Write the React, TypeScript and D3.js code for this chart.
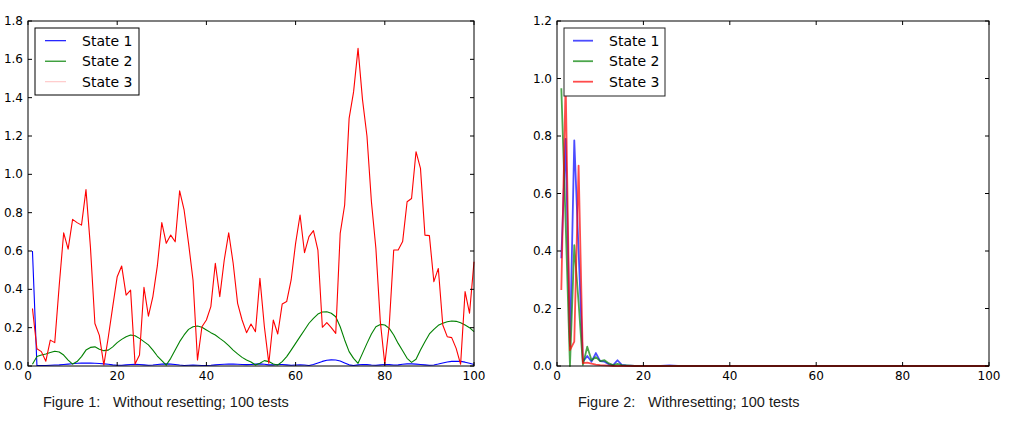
import React from "react";
import * as d3 from "d3";

const seriesNames = ["State 1", "State 2", "State 3"];
const xTicks = [0, 20, 40, 60, 80, 100];
const leftYTicks = [0, 0.2, 0.4, 0.6, 0.8, 1.0, 1.2, 1.4, 1.6, 1.8];
const rightYTicks = [0, 0.2, 0.4, 0.6, 0.8, 1.0, 1.2];

const leftState1 = [
  0.60, 0.003, 0.003, 0.003, 0.004, 0.005, 0.006, 0.008, 0.010, 0.012,
  0.014, 0.015, 0.015, 0.015, 0.014, 0.013, 0.011, 0.009, 0.006, 0.004,
  0.004, 0.006, 0.008, 0.009, 0.008, 0.006, 0.004, 0.005, 0.008, 0.010,
  0.011, 0.010, 0.008, 0.005, 0.003, 0.004, 0.005, 0.004, 0.003, 0.003,
  0.004, 0.006, 0.008, 0.009, 0.010, 0.010, 0.009, 0.008, 0.007, 0.008,
  0.010, 0.011, 0.009, 0.006, 0.006, 0.008, 0.008, 0.006, 0.004, 0.005,
  0.006, 0.005, 0.003, 0.008, 0.016, 0.024, 0.030, 0.032, 0.031, 0.026,
  0.016, 0.006, 0.003, 0.006, 0.008, 0.007, 0.005, 0.004, 0.006, 0.008,
  0.007, 0.005, 0.006, 0.009, 0.011, 0.011, 0.010, 0.008, 0.006, 0.004,
  0.005, 0.010, 0.016, 0.021, 0.024, 0.025, 0.024, 0.020, 0.014, 0.008,
];

const leftState2 = [
  0.009, 0.05, 0.057, 0.063, 0.07, 0.077, 0.073, 0.057, 0.031, 0.01,
  0.023, 0.049, 0.083, 0.097, 0.1, 0.087, 0.08, 0.083, 0.1, 0.122,
  0.139, 0.153, 0.162, 0.158, 0.144, 0.127, 0.11, 0.083, 0.052, 0.028,
  0.005, 0.04, 0.083, 0.127, 0.162, 0.191, 0.205, 0.209, 0.202, 0.188,
  0.174, 0.162, 0.144, 0.127, 0.106, 0.083, 0.063, 0.045, 0.031, 0.021,
  0.005, 0.014, 0.028, 0.023, 0.01, 0.005, 0.023, 0.049, 0.083, 0.118,
  0.153, 0.188, 0.223, 0.249, 0.271, 0.282, 0.283, 0.275, 0.257, 0.205,
  0.136, 0.075, 0.04, 0.014, 0.066, 0.118, 0.167, 0.205, 0.217, 0.214,
  0.196, 0.162, 0.118, 0.08, 0.04, 0.019, 0.035, 0.083, 0.127, 0.167,
  0.191, 0.212, 0.223, 0.231, 0.235, 0.233, 0.226, 0.214, 0.2, 0.179,
];

const leftState3 = [
  0.30, 0.09, 0.075, 0.025, 0.135, 0.122, 0.42, 0.695, 0.61, 0.765,
  0.748, 0.735, 0.92, 0.62, 0.222, 0.16, 0.005, 0.15, 0.31, 0.466,
  0.522, 0.37, 0.396, 0.01, 0.057, 0.41, 0.26, 0.362, 0.522, 0.748,
  0.64, 0.683, 0.648, 0.914, 0.814, 0.64, 0.449, 0.031, 0.205, 0.24,
  0.31, 0.536, 0.362, 0.553, 0.695, 0.536, 0.327, 0.24, 0.174, 0.219,
  0.179, 0.457, 0.205, 0.014, 0.24, 0.167, 0.324, 0.336, 0.449, 0.64,
  0.788, 0.591, 0.675, 0.706, 0.605, 0.202, 0.226, 0.2, 0.17, 0.692,
  0.84, 1.292, 1.43, 1.657, 1.39, 1.2, 0.857, 0.614, 0.23, 0.009,
  0.214, 0.605, 0.605, 0.649, 0.857, 0.874, 1.118, 1.031, 0.683, 0.68,
  0.44, 0.509, 0.214, 0.153, 0.148, 0.092, 0.009, 0.388, 0.275, 0.544,
];

const rightState1 = [
  0.375, 0.79, 0.07, 0.785, 0.40, 0.015, 0.035, 0.015, 0.045, 0.017,
  0.015, 0.006, 0.003, 0.02, 0.004, 0.002, 0.001, 0, 0, 0,
  0, 0, 0, 0, 0.001, 0.002, 0.001, 0, 0, 0,
  0, 0, 0, 0, 0, 0, 0, 0, 0, 0,
  0, 0, 0, 0, 0, 0, 0, 0, 0, 0,
  0, 0, 0, 0, 0, 0, 0, 0, 0, 0,
  0, 0, 0, 0, 0, 0, 0, 0, 0, 0,
  0, 0, 0, 0, 0, 0, 0, 0, 0, 0,
  0, 0, 0, 0, 0, 0, 0, 0, 0, 0,
  0, 0, 0, 0, 0, 0, 0, 0, 0, 0,
];

const rightState2 = [
  0.966, 0.5, 0.0, 0.42, 0.22, 0.004, 0.067, 0.02, 0.031, 0.017,
  0.02, 0.009, 0.003, 0.007, 0.003, 0.002, 0.001, 0, 0, 0,
  0, 0, 0, 0, 0, 0, 0, 0, 0, 0,
  0, 0, 0, 0, 0, 0, 0, 0, 0, 0,
  0, 0, 0, 0, 0, 0, 0, 0, 0, 0,
  0, 0, 0, 0, 0, 0, 0, 0, 0, 0,
  0, 0, 0, 0, 0, 0, 0, 0, 0, 0,
  0, 0, 0, 0, 0, 0, 0, 0, 0, 0,
  0, 0, 0, 0, 0, 0, 0, 0, 0, 0,
  0, 0, 0, 0, 0, 0, 0, 0, 0, 0,
];

const rightState3 = [
  0.264, 0.99, 0.055, 0.085, 0.697, 0.01, 0.012, 0.008, 0.005, 0.003,
  0.002, 0.001, 0, 0, 0, 0, 0, 0, 0, 0,
  0, 0, 0, 0, 0, 0, 0, 0, 0, 0,
  0, 0, 0, 0, 0, 0, 0, 0, 0, 0,
  0, 0, 0, 0, 0, 0, 0, 0, 0, 0,
  0, 0, 0, 0, 0, 0, 0, 0, 0, 0,
  0, 0, 0, 0, 0, 0, 0, 0, 0, 0,
  0, 0, 0, 0, 0, 0, 0, 0, 0, 0,
  0, 0, 0, 0, 0, 0, 0, 0, 0, 0,
  0, 0, 0, 0, 0, 0, 0, 0, 0, 0,
];

type Series = { name: string; values: number[]; color: string; legendColor: string };

type PanelProps = {
  x0: number; x1: number; y0: number; y1: number;
  yMax: number; yTicks: number[];
  series: Series[];
  lineWidth: number; opacity: number;
  legend: { x: number; y: number; w: number; h: number; sx0: number; sx1: number; tx: number; stroke: string };
  captionLabel: string; captionText: string; captionX: number; captionTextX: number;
};

const tickFont = "'DejaVu Sans', sans-serif";
const tickSize = 12;

function Panel(p: PanelProps) {
  const xs = d3.scaleLinear().domain([0, 100]).range([p.x0, p.x1]);
  const ys = d3.scaleLinear().domain([0, p.yMax]).range([p.y1, p.y0]);
  const line = d3
    .line<number>()
    .x((_, i) => xs(i + 1))
    .y((d) => ys(d));
  const tl = 4;
  return (
    <g>
      <rect x={p.x0} y={p.y0} width={p.x1 - p.x0} height={p.y1 - p.y0} fill="#fff" />
      {p.series.map((s) => (
        <path
          key={s.name}
          d={line(s.values) || ""}
          fill="none"
          stroke={s.color}
          strokeWidth={p.lineWidth}
          strokeOpacity={p.opacity}
          strokeLinejoin="round"
        />
      ))}
      <rect x={p.x0} y={p.y0} width={p.x1 - p.x0} height={p.y1 - p.y0} fill="none" stroke="#000" strokeWidth={1} />
      {xTicks.map((t) => (
        <g key={"x" + t}>
          <line x1={xs(t)} x2={xs(t)} y1={p.y1} y2={p.y1 - tl} stroke="#000" />
          <line x1={xs(t)} x2={xs(t)} y1={p.y0} y2={p.y0 + tl} stroke="#000" />
          <text x={xs(t)} y={380} textAnchor="middle" fontFamily={tickFont} fontSize={tickSize} fill="#000">
            {t}
          </text>
        </g>
      ))}
      {p.yTicks.map((t) => (
        <g key={"y" + t}>
          <line x1={p.x0} x2={p.x0 + tl} y1={ys(t)} y2={ys(t)} stroke="#000" />
          <line x1={p.x1} x2={p.x1 - tl} y1={ys(t)} y2={ys(t)} stroke="#000" />
          <text
            x={p.x0 - 5}
            y={ys(t)}
            textAnchor="end"
            dominantBaseline="central"
            fontFamily={tickFont}
            fontSize={tickSize}
            fill="#000"
          >
            {t.toFixed(1)}
          </text>
        </g>
      ))}
      <rect
        x={p.legend.x}
        y={p.legend.y}
        width={p.legend.w}
        height={p.legend.h}
        fill="#fff"
        stroke={p.legend.stroke}
        strokeWidth={1}
      />
      {p.series.map((s, i) => {
        const ry = p.legend.y + 12.7 + i * 20.5;
        return (
          <g key={"lg" + s.name}>
            <line
              x1={p.legend.sx0}
              x2={p.legend.sx1}
              y1={ry}
              y2={ry}
              stroke={s.legendColor}
              strokeWidth={p.lineWidth}
              strokeOpacity={p.opacity}
            />
            <text x={p.legend.tx} y={ry} dominantBaseline="central" fontFamily={tickFont} fontSize={14} fill="#000">
              {s.name}
            </text>
          </g>
        );
      })}
      <text x={p.captionX} y={407} fontFamily="'Liberation Sans', Arial, sans-serif" fontSize={14.5} fill="#1a1a1a">
        {p.captionLabel}
      </text>
      <text x={p.captionTextX} y={407} fontFamily="'Liberation Sans', Arial, sans-serif" fontSize={14.5} fill="#1a1a1a">
        {p.captionText}
      </text>
    </g>
  );
}

export default function App() {
  const leftSeries: Series[] = [
    { name: seriesNames[0], values: leftState1, color: "#0000ff", legendColor: "#0000ff" },
    { name: seriesNames[1], values: leftState2, color: "#008000", legendColor: "#008000" },
    { name: seriesNames[2], values: leftState3, color: "#ff0000", legendColor: "#ffc4c4" },
  ];
  const rightSeries: Series[] = [
    { name: seriesNames[0], values: rightState1, color: "#0000ff", legendColor: "#0000ff" },
    { name: seriesNames[1], values: rightState2, color: "#008000", legendColor: "#008000" },
    { name: seriesNames[2], values: rightState3, color: "#ff0000", legendColor: "#ff0000" },
  ];
  return (
    <div style={{ position: "absolute", left: 0, top: 0 }}>
      <svg width={1019} height={432} style={{ display: "block", background: "#fff" }}>
        <Panel
          x0={28}
          x1={474}
          y0={21}
          y1={366}
          yMax={1.8}
          yTicks={leftYTicks}
          series={leftSeries}
          lineWidth={1.1}
          opacity={1}
          legend={{ x: 35, y: 28, w: 104, h: 67, sx0: 45, sx1: 66, tx: 82, stroke: "#000" }}
          captionLabel="Figure 1:"
          captionText="Without resetting; 100 tests"
          captionX={43}
          captionTextX={113}
        />
        <Panel
          x0={557}
          x1={989}
          y0={21}
          y1={366}
          yMax={1.2}
          yTicks={rightYTicks}
          series={rightSeries}
          lineWidth={1.8}
          opacity={0.7}
          legend={{ x: 564, y: 28, w: 101, h: 68, sx0: 573, sx1: 593, tx: 609, stroke: "#222" }}
          captionLabel="Figure 2:"
          captionText="Withresetting; 100 tests"
          captionX={578}
          captionTextX={648}
        />
      </svg>
    </div>
  );
}
